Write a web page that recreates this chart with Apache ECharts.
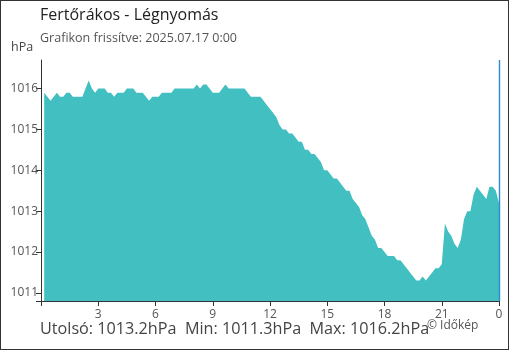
<!DOCTYPE html>
<html>
<head>
<meta charset="utf-8">
<script src="https://cdn.jsdelivr.net/npm/echarts@6/dist/echarts.min.js"></script>
<style>
  html, body { margin: 0; padding: 0; background: #fff; }
  #frame { position: absolute; left: 0; top: 0; width: 509px; height: 350px; box-sizing: border-box; border: 1px solid #333; }
  #chart { position: absolute; left: 0; top: 0; width: 510px; height: 350px; }
</style>
</head>
<body>
<div id="frame"></div>
<div id="chart"></div>
<script>
// 10-minute readings, 0:10 .. 24:00 (hPa)
const pressure = [
  1015.9, 1015.8, 1015.7, 1015.8, 1015.9, 1015.8, 1015.8, 1015.9, 1015.9, 1015.8, 1015.8, 1015.8,
  1015.8, 1016.0, 1016.2, 1016.0, 1015.9, 1016.0, 1016.0, 1016.0, 1015.9, 1015.9, 1015.8, 1015.9,
  1015.9, 1015.9, 1016.0, 1016.0, 1016.0, 1015.9, 1015.9, 1015.9, 1015.8, 1015.7, 1015.8, 1015.8,
  1015.8, 1015.9, 1015.9, 1015.9, 1015.9, 1016.0, 1016.0, 1016.0, 1016.0, 1016.0, 1016.0, 1016.0,
  1016.1, 1016.0, 1016.1, 1016.1, 1016.0, 1015.9, 1015.9, 1015.9, 1016.0, 1016.1, 1016.0, 1016.0,
  1016.0, 1016.0, 1016.0, 1016.0, 1015.9, 1015.8, 1015.8, 1015.8, 1015.8, 1015.7, 1015.6, 1015.5,
  1015.4, 1015.3, 1015.1, 1015.0, 1015.0, 1014.9, 1014.9, 1014.8, 1014.7, 1014.7, 1014.5, 1014.5,
  1014.4, 1014.4, 1014.3, 1014.2, 1014.0, 1014.0, 1013.9, 1013.8, 1013.8, 1013.7, 1013.6, 1013.5,
  1013.5, 1013.3, 1013.2, 1013.1, 1012.9, 1012.8, 1012.6, 1012.4, 1012.3, 1012.1, 1012.1, 1012.0,
  1011.9, 1011.9, 1011.9, 1011.8, 1011.8, 1011.7, 1011.6, 1011.5, 1011.4, 1011.3, 1011.3, 1011.4,
  1011.3, 1011.4, 1011.5, 1011.6, 1011.6, 1011.7, 1012.7, 1012.5, 1012.4, 1012.2, 1012.1, 1012.3,
  1012.8, 1013.0, 1013.0, 1013.4, 1013.6, 1013.5, 1013.4, 1013.3, 1013.6, 1013.6, 1013.5, 1013.2
];

// time categories 0:00 .. 24:00 (shown as 0) every 10 minutes
const times = [];
for (let h = 0; h <= 24; h++) {
  for (let m = 0; m < 60; m += 10) {
    if (h === 24 && m > 0) break;
    times.push((h % 24) + ':' + (m === 0 ? '00' : m));
  }
}
const seriesData = [null].concat(pressure);

const yTicks = [1011, 1012, 1013, 1014, 1015, 1016];
const yMin = 1010.8, yMax = 1016.7;

const titleText = 'Fertőrákos - Légnyomás';
const subText = 'Grafikon frissítve: 2025.07.17 0:00';
const unitText = 'hPa';
const footerText = 'Utolsó: 1013.2hPa  Min: 1011.3hPa  Max: 1016.2hPa';
const creditText = '© Időkép';

const FONT = '"Open Sans", "Noto Sans", sans-serif';

const chart = echarts.init(document.getElementById('chart'), null, { renderer: 'canvas' });
chart.setOption({
  animation: false,
  backgroundColor: 'transparent',
  textStyle: { fontFamily: FONT },
  grid: { left: 41, right: 11, top: 60, bottom: 49, containLabel: false },
  xAxis: {
    type: 'category',
    data: times,
    boundaryGap: false,
    axisLine: { show: true, lineStyle: { color: '#333', width: 1 } },
    axisTick: { show: true, interval: 17, length: 5, lineStyle: { color: '#333' } },
    axisLabel: {
      interval: 17, color: '#555', fontSize: 12, fontFamily: FONT, margin: 8,
      formatter: function (v, i) { return i === 0 ? '' : v.split(':')[0]; }
    },
    splitLine: { show: false }
  },
  yAxis: {
    type: 'value',
    min: yMin, max: yMax,
    axisLine: { show: true, lineStyle: { color: '#333', width: 1 } },
    axisTick: { show: true, length: 5, lineStyle: { color: '#333' }, customValues: [yMin].concat(yTicks) },
    axisLabel: {
      color: '#555', fontSize: 12, fontFamily: FONT, margin: 3, customValues: yTicks,
      formatter: function (v) { return String(Math.round(v)); }
    },
    splitLine: { show: false }
  },
  series: [{
    type: 'line',
    data: seriesData,
    showSymbol: false,
    symbol: 'none',
    smooth: false,
    connectNulls: false,
    lineStyle: { width: 0, color: '#41bfc1' },
    areaStyle: { color: '#41bfc1', opacity: 1 },
    markLine: {
      silent: true,
      symbol: ['none', 'none'],
      label: { show: false },
      lineStyle: { color: '#2f8ad6', width: 1.4, type: 'solid' },
      data: [{ xAxis: times.length - 1 }]
    }
  }],
  graphic: [
    { type: 'text', left: 40, top: 7, style: { text: titleText, fill: '#222', font: '16px ' + FONT } },
    { type: 'text', left: 40, top: 32, style: { text: subText, fill: '#555', font: '12.5px ' + FONT } },
    { type: 'text', left: 11, top: 41, style: { text: unitText, fill: '#444', font: '12.5px ' + FONT } },
    { type: 'text', left: 40, top: 321, style: { text: footerText, fill: '#444', font: '16.2px ' + FONT } },
    { type: 'text', left: 427, top: 320, style: { text: creditText, fill: '#555', font: '12px ' + FONT } }
  ]
});
</script>
</body>
</html>
